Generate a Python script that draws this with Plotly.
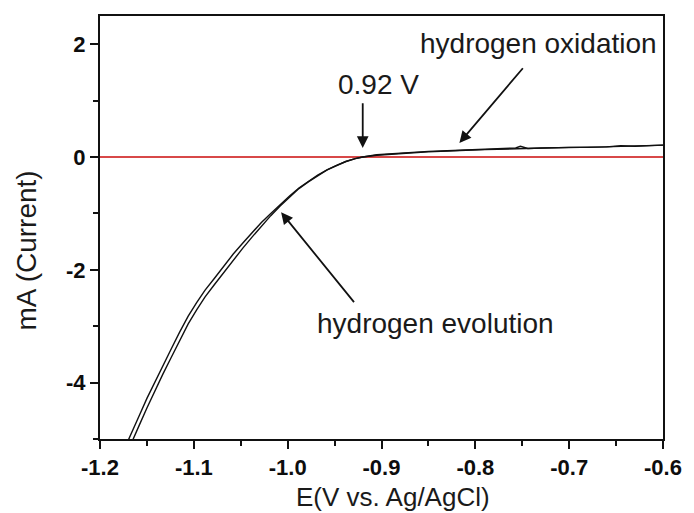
import plotly.graph_objects as go

# Linear sweep voltammetry: potential (V vs. Ag/AgCl) and current (mA)
scan_fwd_v = [-1.172, -1.165, -1.158, -1.150, -1.142, -1.133, -1.124, -1.115, -1.106,
              -1.097, -1.088, -1.078, -1.068, -1.058, -1.048, -1.038, -1.028, -1.018,
              -1.008, -0.998, -0.988, -0.978, -0.968, -0.958, -0.948, -0.938, -0.928,
              -0.920, -0.905, -0.890, -0.870, -0.850, -0.830, -0.810, -0.790, -0.770,
              -0.757, -0.752, -0.748, -0.744, -0.730, -0.700, -0.680, -0.660, -0.645,
              -0.630, -0.600]
scan_fwd_i = [-5.10, -4.85, -4.58, -4.28, -4.00, -3.70, -3.40, -3.10, -2.82,
              -2.58, -2.36, -2.15, -1.93, -1.72, -1.53, -1.34, -1.16, -1.00,
              -0.84, -0.69, -0.55, -0.43, -0.32, -0.23, -0.15, -0.08, -0.03,
              0.00, 0.04, 0.06, 0.08, 0.10, 0.11, 0.12, 0.13, 0.15,
              0.16, 0.19, 0.17, 0.15, 0.16, 0.17, 0.18, 0.18, 0.20,
              0.19, 0.21]

scan_rev_v = [-1.172, -1.165, -1.158, -1.150, -1.142, -1.133, -1.124, -1.115, -1.106,
              -1.097, -1.088, -1.078, -1.068, -1.058, -1.048, -1.038, -1.028, -1.018,
              -1.008, -0.998, -0.988, -0.978, -0.968, -0.958, -0.948, -0.938, -0.928,
              -0.920, -0.905, -0.890, -0.870, -0.850, -0.830, -0.810, -0.790, -0.770,
              -0.750, -0.730, -0.700, -0.680, -0.660, -0.640, -0.620, -0.600]
scan_rev_i = [-5.28, -5.03, -4.75, -4.45, -4.16, -3.85, -3.55, -3.25, -2.96,
              -2.71, -2.48, -2.26, -2.04, -1.82, -1.62, -1.42, -1.22, -1.04,
              -0.87, -0.71, -0.56, -0.44, -0.33, -0.23, -0.15, -0.08, -0.03,
              0.00, 0.03, 0.05, 0.07, 0.09, 0.11, 0.12, 0.13, 0.14,
              0.15, 0.16, 0.17, 0.17, 0.18, 0.19, 0.20, 0.21]

x_tick_vals = [-1.2, -1.1, -1.0, -0.9, -0.8, -0.7, -0.6]
x_tick_text = ["-1.2", "-1.1", "-1.0", "-0.9", "-0.8", "-0.7", "-0.6"]
y_tick_vals = [-4, -2, 0, 2]
y_tick_text = ["-4", "-2", "0", "2"]

onset_potential = -0.92

TEXT_FONT = dict(family="Liberation Sans, Arial, sans-serif", size=28, color="#1a1a1a")
TITLE_FONT = dict(family="Liberation Sans, Arial, sans-serif", size=26, color="#1a1a1a")
TICK_FONT = dict(family="Liberation Sans, Arial, sans-serif", size=22, color="#0d0d0d",
                 weight="bold")

fig = go.Figure()
fig.add_trace(go.Scatter(x=scan_fwd_v, y=scan_fwd_i, mode="lines",
                         line=dict(color="#111111", width=1.4), showlegend=False))
fig.add_trace(go.Scatter(x=scan_rev_v, y=scan_rev_i, mode="lines",
                         line=dict(color="#111111", width=1.4), showlegend=False))

axis_common = dict(
    showline=True, linecolor="#111111", linewidth=2, mirror=True,
    ticks="outside", ticklen=8, tickwidth=2, tickcolor="#111111",
    showgrid=False, tickfont=TICK_FONT,
)

fig.update_xaxes(
    range=[-1.2, -0.6], tickvals=x_tick_vals, ticktext=x_tick_text,
    zeroline=False,
    minor=dict(ticks="outside", ticklen=5, tickwidth=2, tickcolor="#111111", dtick=0.05,
               tick0=-1.2, showgrid=False),
    **axis_common,
)
fig.update_yaxes(
    range=[-5, 2.5], tickvals=y_tick_vals, ticktext=y_tick_text,
    zeroline=True, zerolinecolor="#d84848", zerolinewidth=1.6,
    minor=dict(ticks="outside", ticklen=5, tickwidth=2, tickcolor="#111111", dtick=1,
               tick0=0, showgrid=False),
    **axis_common,
)

annotations = [
    # axis titles
    dict(text="E(V vs. Ag/AgCl)", xref="paper", yref="paper", x=0.52, y=-0.136,
         xanchor="center", yanchor="middle", showarrow=False, font=TITLE_FONT),
    dict(text="mA (Current)", xref="paper", yref="paper", x=-0.13, y=0.445,
         xanchor="center", yanchor="middle", textangle=-90, showarrow=False,
         font=TEXT_FONT),
    # onset potential marker
    dict(text="0.92 V", x=-0.903, y=1.28, xref="x", yref="y", showarrow=False,
         font=TEXT_FONT),
    dict(x=onset_potential, y=0.16, ax=onset_potential, ay=0.98, xref="x", yref="y",
         axref="x", ayref="y", text="", showarrow=True, arrowhead=2, arrowsize=1.3,
         arrowwidth=1.8, arrowcolor="#111111", standoff=0),
    # hydrogen oxidation
    dict(text="hydrogen oxidation", x=-0.733, y=2.02, xref="x", yref="y",
         showarrow=False, font=TEXT_FONT),
    dict(x=-0.817, y=0.25, ax=-0.748, ay=1.6, xref="x", yref="y", axref="x", ayref="y",
         text="", showarrow=True, arrowhead=2, arrowsize=1.3, arrowwidth=1.8,
         arrowcolor="#111111", standoff=0),
    # hydrogen evolution
    dict(text="hydrogen evolution", x=-0.842, y=-2.95, xref="x", yref="y",
         showarrow=False, font=TEXT_FONT),
    dict(x=-1.007, y=-0.98, ax=-0.928, ay=-2.6, xref="x", yref="y", axref="x", ayref="y",
         text="", showarrow=True, arrowhead=2, arrowsize=1.3, arrowwidth=1.8,
         arrowcolor="#111111", standoff=0),
]

fig.update_layout(
    width=694, height=513,
    margin=dict(l=100, r=26, t=16, b=74),
    paper_bgcolor="white", plot_bgcolor="white",
    annotations=annotations,
    showlegend=False,
)

fig.write_html("out.html")
